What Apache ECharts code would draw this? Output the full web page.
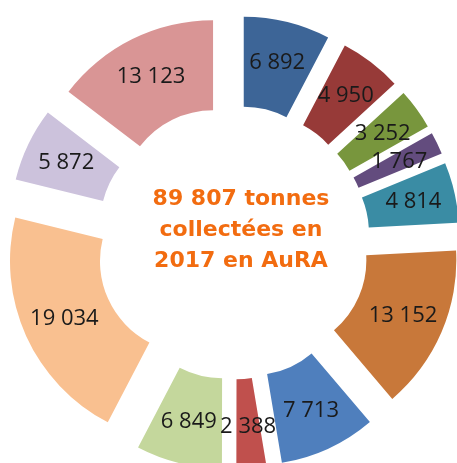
<!DOCTYPE html>
<html>
<head>
<meta charset="utf-8">
<script src="https://cdn.jsdelivr.net/npm/echarts@6/dist/echarts.min.js"></script>
<style>
  html, body { margin: 0; padding: 0; background: #fff; }
  #chart { width: 457px; height: 463px; }
</style>
</head>
<body>
<div id="chart"></div>
<script>
// tonnes collectées par segment, dans l'ordre horaire depuis midi
const values = [6892, 4950, 3252, 1767, 4814, 13152, 7713, 2388, 6849, 19034, 5872, 13123];
const colors = ['#3D6597', '#973A38', '#78963D', '#634C7E', '#3A8CA4', '#C8783A',
                '#4F7FBD', '#C0504D', '#C4D79C', '#F9C090', '#CCC2DC', '#D99595'];
const centerLines = ['89 807 tonnes', 'collectées en', '2017 en AuRA'];

function fmt(v) {
    return String(v).replace(/\B(?=(\d{3})+(?!\d))/g, ' ');
}

const chart = echarts.init(document.getElementById('chart'));
chart.setOption({
    animation: false,
    graphic: [{
        type: 'text',
        x: 241,
        y: 184,
        style: {
            text: centerLines.join('\n'),
            fill: '#F26C10',
            font: 'bold 22px "DejaVu Sans"',
            lineHeight: 31,
            align: 'center',
            verticalAlign: 'top'
        }
    }],
    series: [{
        type: 'pie',
        center: [233, 242.5],
        radius: [92, 182],
        startAngle: 90,
        selectedMode: 'multiple',
        selectedOffset: 45,
        avoidLabelOverlap: false,
        label: {
            position: 'inside',
            formatter: p => fmt(p.value),
            color: '#1a1a1a',
            fontFamily: 'Open Sans',
            fontSize: 22,
            overflow: 'none'
        },
        labelLayout: { hideOverlap: false },
        labelLine: { show: false },
        emphasis: { disabled: true },
        select: { itemStyle: { borderWidth: 0 } },
        data: values.map((v, i) => ({
            value: v,
            selected: true,
            itemStyle: { color: colors[i] },
            select: { itemStyle: { color: colors[i] } }
        }))
    }]
});
</script>
</body>
</html>
